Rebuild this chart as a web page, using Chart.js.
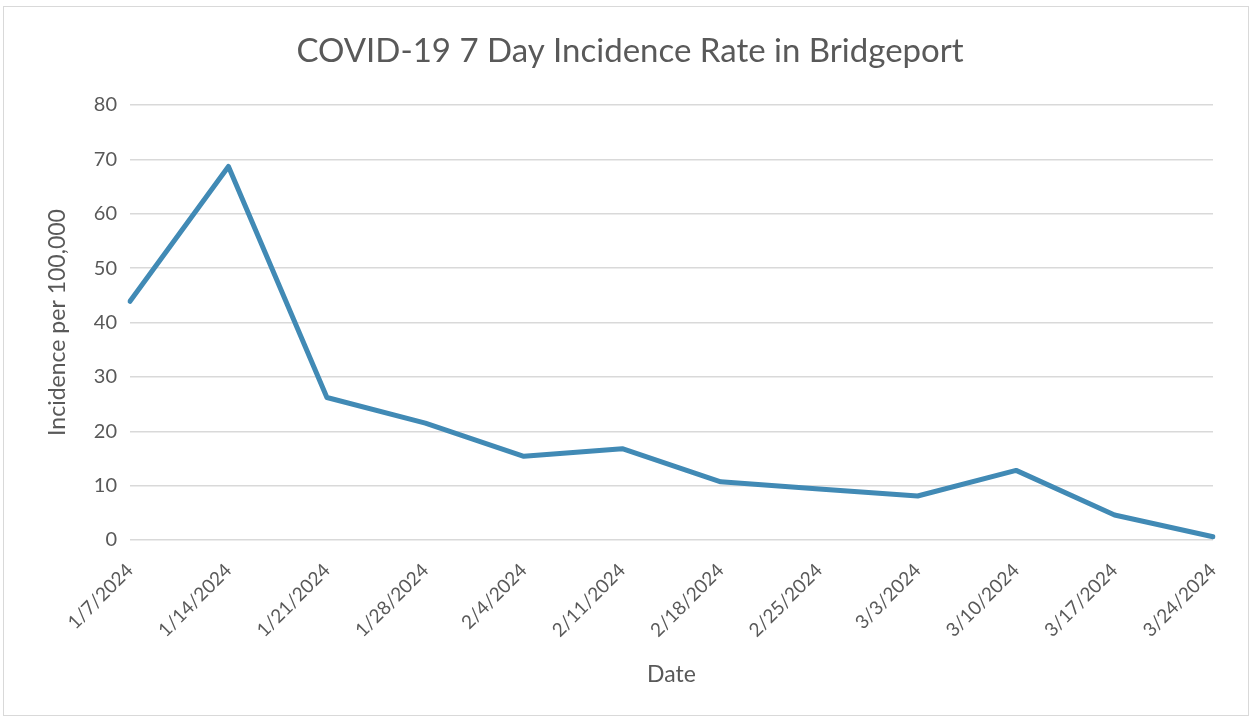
<!DOCTYPE html>
<html>
<head>
<meta charset="utf-8">
<script src="https://cdn.jsdelivr.net/npm/chart.js@4.4.1/dist/chart.umd.min.js"></script>
<style>
  body { margin: 0; background: #fff; }
  #wrap { position: absolute; left: 0; top: 0; width: 1252px; height: 719px; }
  #frame { position: absolute; left: 3px; top: 6px; width: 1244px; height: 708px; border: 1px solid #d9d9d9; }
</style>
</head>
<body>
<div id="wrap">
  <div id="frame"></div>
  <canvas id="incidence_graph" width="1252" height="719"></canvas>
</div>
<script>
// data
const dates = ["1/7/2024", "1/14/2024", "1/21/2024", "1/28/2024", "2/4/2024", "2/11/2024",
               "2/18/2024", "2/25/2024", "3/3/2024", "3/10/2024", "3/17/2024", "3/24/2024"];
const incidence = [43.9, 68.7, 26.2, 21.5, 15.4, 16.8, 10.7, 9.4, 8.1, 12.8, 4.6, 0.6];
const yTicks = [0, 10, 20, 30, 40, 50, 60, 70, 80];
const chartTitle = "COVID-19 7 Day Incidence Rate in Bridgeport";

const textColor = "#595959";
const gridColor = "#d9d9d9";
const fontName = "Lato, 'Open Sans', sans-serif";

// title centred on the whole frame, not on the padded layout box
const frameTitle = {
  id: "frameTitle",
  afterDraw(chart) {
    const c = chart.ctx;
    c.save();
    c.fillStyle = textColor;
    c.font = "33px " + fontName;
    c.textAlign = "center";
    c.textBaseline = "middle";
    c.fillText(chartTitle, 630, 51);
    c.restore();
  }
};

const ctx = document.getElementById("incidence_graph");

const chart = new Chart(ctx, {
  type: "line",
  data: {
    labels: dates,
    datasets: [{
      data: incidence,
      borderColor: "#418ab5",
      borderWidth: 5,
      pointRadius: 0,
      tension: 0,
      borderCapStyle: "round",
      borderJoinStyle: "round"
    }]
  },
  plugins: [frameTitle],
  options: {
    responsive: false,
    animation: false,
    layout: { padding: { left: 8, right: 39, top: 105, bottom: 10 } },
    plugins: {
      legend: { display: false },
      tooltip: { enabled: false },
      title: { display: false }
    },
    scales: {
      x: {
        offset: false,
        grid: { display: false },
        border: { display: false },
        ticks: {
          color: textColor,
          font: { family: fontName, size: 19 },
          maxRotation: 45,
          minRotation: 45,
          padding: 11,
          autoSkip: false
        },
        title: {
          display: true,
          text: "Date",
          color: textColor,
          font: { family: fontName, size: 23 },
          padding: { top: 0, bottom: 21 }
        },
        afterFit: function(scale) { scale.height = 169; }
      },
      y: {
        min: 0,
        max: 80,
        afterBuildTicks: function(scale) { scale.ticks = yTicks.map(v => ({ value: v })); },
        grid: { color: gridColor, lineWidth: 1.5, drawTicks: false },
        border: { display: false },
        ticks: {
          color: textColor,
          font: { family: fontName, size: 20 },
          padding: 13
        },
        title: {
          display: true,
          text: "Incidence per 100,000",
          color: textColor,
          font: { family: fontName, size: 23 },
          padding: { top: 36, bottom: 0 }
        },
        afterFit: function(scale) { scale.width = 122; }
      }
    }
  }
});
</script>
</body>
</html>
